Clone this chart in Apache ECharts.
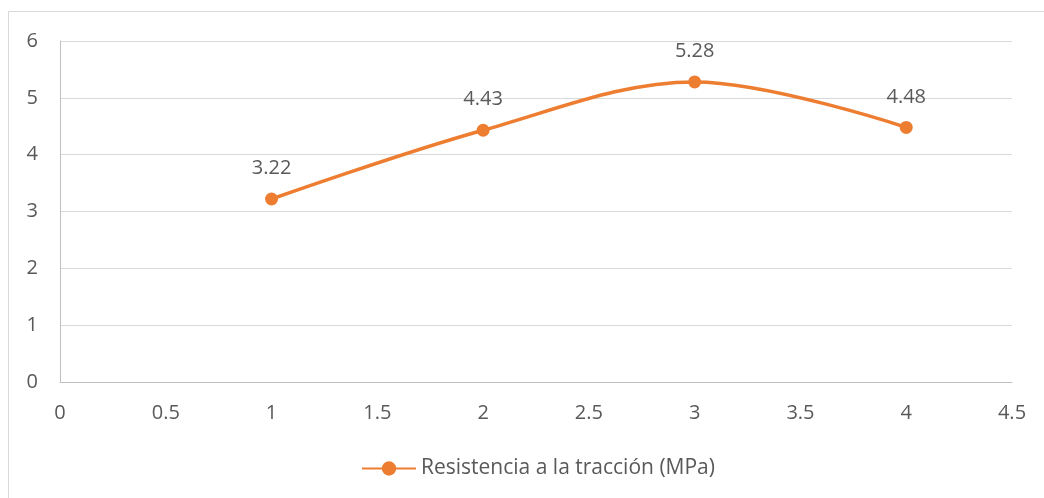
<html style="height: 100%">
<head>
<meta charset="utf-8">
</head>
<body style="height: 100%; margin: 0; background: #fff">
	<div id="container" style="height: 100%"></div>

	<script src="https://cdn.jsdelivr.net/npm/echarts@6/dist/echarts.min.js"></script>
	<script type="text/javascript">
		var dom = document.getElementById("container");
		var myChart = echarts.init(dom);

		// datos
		var seriesName = 'Resistencia a la tracción (MPa)';
		var xValues = [1, 2, 3, 4];
		var yValues = [3.22, 4.43, 5.28, 4.48];

		var points = [];
		for (var i = 0; i < xValues.length; i++) {
			points.push([xValues[i], yValues[i]]);
		}

		var textColor = '#595959';
		var font = '"Open Sans", sans-serif';

		var option = {
			animation: false,
			graphic: [{
				type: 'rect',
				silent: true,
				shape: { x: 8.5, y: 11.5, width: 1200, height: 600 },
				style: { fill: 'none', stroke: '#d9d9d9', lineWidth: 1 }
			}],
			grid: {
				left: 60,
				right: 32,
				top: 41,
				bottom: 116
			},
			legend: {
				bottom: 14,
				left: 356,
				itemWidth: 54,
				itemHeight: 18,
				itemGap: 6,
				textStyle: { color: textColor, fontSize: 21, fontFamily: font },
				data: [seriesName]
			},
			xAxis: {
				type: 'value',
				min: 0,
				max: 4.5,
				interval: 0.5,
				axisLine: { show: true, lineStyle: { color: '#bfbfbf', width: 1 } },
				axisTick: { show: false },
				splitLine: { show: false },
				axisLabel: { color: textColor, fontSize: 20, fontFamily: font, margin: 21 }
			},
			yAxis: {
				type: 'value',
				min: 0,
				max: 6,
				interval: 1,
				axisLine: { show: true, lineStyle: { color: '#bfbfbf', width: 1 } },
				axisTick: { show: false },
				splitLine: { show: true, lineStyle: { color: '#d9d9d9', width: 1 } },
				axisLabel: { color: textColor, fontSize: 20, fontFamily: font, margin: 22 }
			},
			series: [{
				name: seriesName,
				type: 'line',
				smooth: 0.35,
				data: points,
				symbol: 'circle',
				symbolSize: 13,
				itemStyle: { color: '#ED7D31' },
				lineStyle: { color: '#ED7D31', width: 3.5 },
				label: {
					show: true,
					position: 'top',
					distance: 14,
					color: textColor,
					fontSize: 20,
					fontFamily: font,
					formatter: function (p) { return p.value[1].toFixed(2); }
				}
			}]
		};

		myChart.setOption(option);
	</script>
</body>
</html>
